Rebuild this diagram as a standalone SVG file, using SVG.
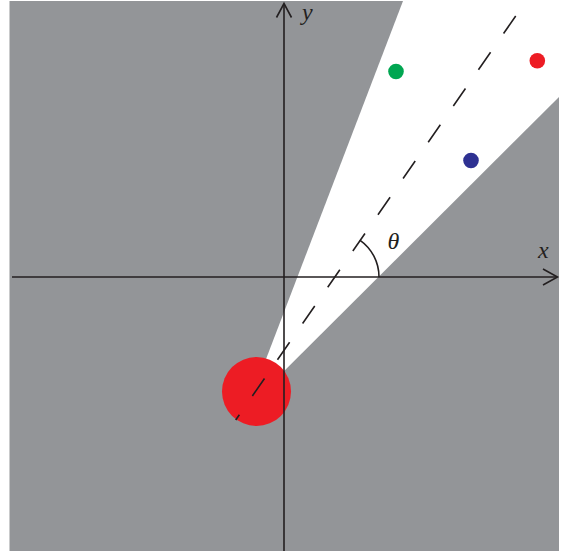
<svg xmlns="http://www.w3.org/2000/svg" width="562" height="551" viewBox="0 0 562 551">
<style>
.ax{stroke:#231f20;stroke-width:1.6;fill:none}
.lbl{font-family:"Liberation Serif","DejaVu Serif",serif;font-style:italic;font-size:24px;fill:#231f20}
</style>
<rect x="0" y="0" width="562" height="551" fill="#ffffff"/>
<g id="background">
<rect x="9.5" y="1" width="549.5" height="550" fill="#939598"/>
<polygon points="247.5,407.5 403,1 559,1 559,97" fill="#ffffff"/>
</g>
<g id="source"><circle cx="256.5" cy="391.5" r="34.5" fill="#ed1c24"/></g>
<g id="connectors">
<line class="ax" x1="12" y1="277" x2="557" y2="277"/>
<polyline class="ax" points="543,269 557.5,277 543,285"/>
<line class="ax" x1="284" y1="551" x2="284" y2="4"/>
<polyline class="ax" points="276.5,17.5 284,3.5 291.5,17.5"/>
<line x1="515.7" y1="16" x2="235.7" y2="420" stroke="#231f20" stroke-width="1.6" stroke-dasharray="21.3 22.8"/>
<path d="M379,277 A45,45 0 0 0 359.8,240.1" class="ax"/>
</g>
<g id="dot-green"><circle cx="396" cy="71.5" r="7.8" fill="#00a651"/></g>
<g id="dot-red"><circle cx="537.3" cy="60.7" r="7.8" fill="#ed1c24"/></g>
<g id="dot-blue"><circle cx="471" cy="160.5" r="7.8" fill="#2e3192"/></g>
<text class="lbl" x="302" y="20">y</text>
<text class="lbl" x="538" y="258">x</text>
<text class="lbl" x="387.5" y="249">θ</text>
</svg>
